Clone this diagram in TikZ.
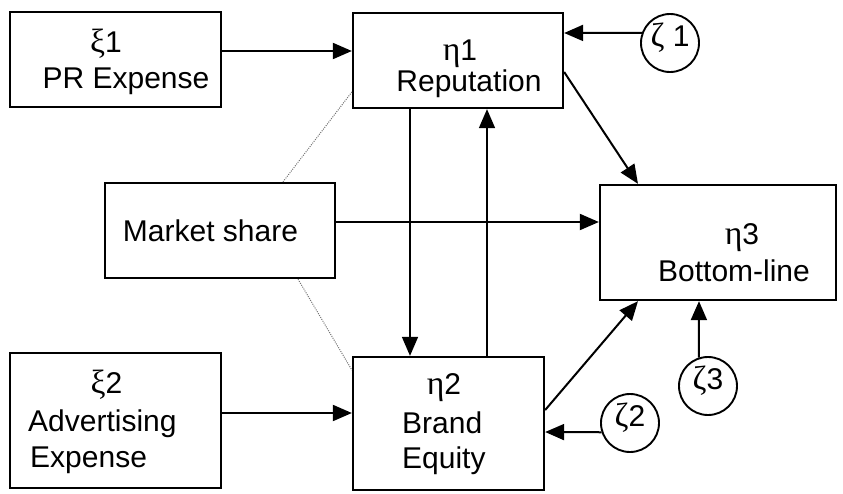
\documentclass[tikz,border=0pt]{standalone}
\usepackage{fontspec}
\setmainfont{Liberation Sans}
\newfontfamily\grk[Scale=1.12]{Liberation Serif}
\usetikzlibrary{arrows.meta}
\begin{document}
\begin{tikzpicture}[x=1pt,y=-1pt,
  box/.style={draw, line width=2.3pt, inner sep=0pt},
  txt/.style={font=\fontsize{30pt}{36pt}\selectfont, inner sep=0pt},
  err/.style={draw, circle, line width=1.9pt, minimum size=58pt, inner sep=0pt,
    font=\fontsize{30pt}{36pt}\selectfont, text height=0.75em, text depth=0pt},
  arr/.style={line width=2pt, -{Triangle[length=19pt,width=16pt]}},
  varr/.style={arr, line width=1.6pt},
  corr/.style={dash pattern=on 1pt off 1.2pt, line width=1pt, black!55}]
\useasboundingbox (0,0) rectangle (843,493);

% boxes
\node[box, minimum width=211pt, minimum height=95pt]  (xi1)  at (115.5,59.5) {};
\node[box, minimum width=210pt, minimum height=95pt]  (eta1) at (458,60.5) {};
\node[box, minimum width=230pt, minimum height=95pt]  (ms)   at (220,230.5) {};
\node[box, minimum width=236pt, minimum height=115pt] (eta3) at (718,242.5) {};
\node[box, minimum width=211pt, minimum height=135pt] (xi2)  at (115.5,420.5) {};
\node[box, minimum width=191pt, minimum height=133pt] (eta2) at (448.5,423.5) {};

% texts
\node[txt, anchor=base] (xi1a) at (106,52) {{\grk ξ}1};
\node[txt, anchor=base] (xi1b) at (126,88) {PR Expense};
\node[txt, anchor=base] (eta1a) at (460,60) {{\grk η}1};
\node[txt, anchor=base] (eta1b) at (469,91) {Reputation};
\node[txt, anchor=base] (msa) at (210.5,241) {Market share};
\node[txt, anchor=base] (xi2a) at (106.5,393) {{\grk ξ}2};
\node[txt, anchor=base west] (xi2b) at (28,431) {Advertising};
\node[txt, anchor=base west] (xi2c) at (30,467) {Expense};
\node[txt, anchor=base] (eta3a) at (742,244) {{\grk η}3};
\node[txt, anchor=base] (eta3b) at (734,281) {Bottom-line};
\node[txt, anchor=base] (eta2a) at (444,394) {{\grk η}2};
\node[txt, anchor=base west] (eta2b) at (402,433) {Brand};
\node[txt, anchor=base west] (eta2c) at (402,468) {Equity};

% error circles
\node[err] (z1) at (670,43) {{\grk ζ} 1};
\node[err] (z2) at (630,423) {{\grk ζ}2};
\node[err] (z3) at (708,386) {{\grk ζ}3};

% arrows
\draw[arr] ([yshift=8.5pt]xi1.east) -- ([yshift=9.5pt]eta1.west);
\draw[arr] (z1.160) -- ([yshift=27.5pt]eta1.east);
\draw[arr] ([yshift=8.5pt]ms.east) -- ([yshift=20.5pt]eta3.west);
\draw[arr] ([yshift=7.5pt]xi2.east) -- ([yshift=10.5pt]eta2.west);
\draw[arr] (z2.198) -- ([yshift=-8.5pt]eta2.east);
\draw[varr] ([xshift=-48pt]eta1.south) -- ([xshift=-38.5pt]eta2.north);
\draw[varr] ([xshift=38.5pt]eta2.north) -- ([xshift=29pt]eta1.south);
\draw[arr] (z3.108) -- ([xshift=-19pt]eta3.south);
\draw[arr] ([yshift=-11.5pt]eta1.east) -- ([xshift=-80pt]eta3.north);
\draw[arr] ([yshift=13.5pt]eta2.east) -- ([xshift=-80pt]eta3.south);

% correlations
\draw[corr] ([xshift=63pt]ms.north) -- ([yshift=-31.5pt]eta1.west);
\draw[corr] ([xshift=78pt]ms.south) -- ([yshift=53.5pt]eta2.west);
\end{tikzpicture}
\end{document}
